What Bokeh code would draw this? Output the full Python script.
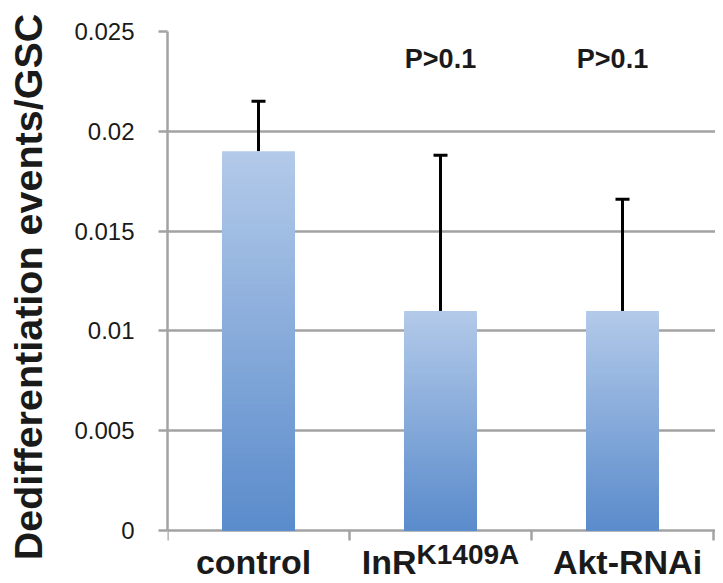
import math
from bokeh.plotting import figure
from bokeh.layouts import column, row
from bokeh.models import Range1d, FixedTicker, NumeralTickFormatter, Whisker, TeeHead, ColumnDataSource
from bokeh.core.properties import value
from bokeh.embed import file_html
from bokeh.resources import INLINE

# ---- data ----
categories = ["control", "InR", "Akt-RNAi"]
superscripts = ["", "K1409A", ""]
values = [0.019, 0.011, 0.011]
errors = [0.0025, 0.0078, 0.0056]
p_labels = ["", "P>0.1", "P>0.1"]
y_ticks = [0, 0.005, 0.01, 0.015, 0.02, 0.025]
y_title = "Dedifferentiation events/GSC"

# ---- style ----
FONT = "Liberation Sans"
TXT = "#1a1a1a"
GRAY = "#a3a3a3"
label_dx = [-5, 0, 5]        # small horizontal nudges of category labels (px)
p_dx = [0, 0, -10]           # nudges of the p-value texts (px)

n = len(categories)
centers = [i + 0.5 for i in range(n)]
bounds = [float(i) for i in range(n + 1)]

W_ALL, H_ALL = 715, 575
TW = 60                       # strip holding the rotated y title
W = W_ALL - TW
H1 = 544                      # chart part
H2 = H_ALL - H1               # category-label strip
TOP, LEFT = 31, 167 - TW
PLOT_H = 499                  # pixels from 0 to the top tick
CAT_PX = 182                  # pixels per category
px_per_unit = PLOT_H / y_ticks[-1]
y_start = -(H1 - TOP - PLOT_H) / px_per_unit
x_range = Range1d(0, (W - LEFT) / CAT_PX)


def bare(fig):
    fig.outline_line_color = None
    fig.background_fill_color = "white"
    fig.border_fill_color = "white"
    fig.xaxis.visible = False
    fig.xgrid.visible = False
    return fig


# ---- y title strip ----
t = bare(figure(width=TW, height=H_ALL, x_range=Range1d(0, TW), y_range=Range1d(0, H_ALL),
                min_border=0, output_backend="svg", toolbar_location=None))
t.yaxis.visible = False
t.ygrid.visible = False
t.text(x=[27], y=[H_ALL - 286.5], text=[y_title], angle=math.pi / 2,
       text_align="center", text_baseline="alphabetic", text_font=value(FONT),
       text_font_size=value("39.5px"), text_font_style="bold", text_color=TXT)

# ---- main chart ----
p = bare(figure(width=W, height=H1, x_range=x_range, y_range=Range1d(y_start, y_ticks[-1]),
                min_border_left=LEFT, min_border_right=0, min_border_top=TOP,
                min_border_bottom=0, output_backend="svg", toolbar_location=None))

p.ygrid.ticker = FixedTicker(ticks=y_ticks)
p.ygrid.grid_line_color = GRAY
p.ygrid.grid_line_width = 2.5

tick_len = 10 / px_per_unit
p.segment(x0=bounds, x1=bounds, y0=[0] * len(bounds), y1=[-tick_len] * len(bounds),
          line_color=GRAY, line_width=2.5)

# gradient bars (stacked slices, darker at bottom)
top_rgb = (179, 202, 233)
bot_rgb = (90, 139, 203)
N = 60
xs, tops, cols = [], [], []
for k in reversed(range(N)):
    f = (k + 0.5) / N
    c = tuple(int(round(b + (tt - b) * f)) for b, tt in zip(bot_rgb, top_rgb))
    hexc = "#%02x%02x%02x" % c
    for xc, v in zip(centers, values):
        xs.append(xc)
        tops.append(v * (k + 1) / N)
        cols.append(hexc)
p.vbar(x=xs, top=tops, bottom=0, width=0.4, fill_color=cols, line_color=None)

# error bars (upper only)
err_src = ColumnDataSource(dict(x=centers, lower=values,
                                upper=[v + e for v, e in zip(values, errors)]))
p.add_layout(Whisker(base="x", lower="lower", upper="upper", source=err_src,
                     line_color="black", line_width=3, lower_head=None,
                     upper_head=TeeHead(size=14, line_color="black", line_width=3)))

# y axis
p.yaxis.ticker = FixedTicker(ticks=y_ticks)
p.yaxis.bounds = (0, y_ticks[-1])
p.yaxis.formatter = NumeralTickFormatter(format="0.[000]")
p.yaxis.axis_line_color = GRAY
p.yaxis.axis_line_width = 2.5
p.yaxis.major_tick_line_color = GRAY
p.yaxis.major_tick_line_width = 2.5
p.yaxis.major_tick_out = 9
p.yaxis.major_tick_in = 0
p.yaxis.minor_tick_line_color = None
p.yaxis.major_label_standoff = 24
p.yaxis.major_label_text_font = FONT
p.yaxis.major_label_text_font_size = "24px"
p.yaxis.major_label_text_color = TXT

# p-value annotations
p_y = y_ticks[-1] - 27 / px_per_unit
px_ = [c for c, tx in zip(centers, p_labels) if tx]
pt = [tx for tx in p_labels if tx]
po = [d for d, tx in zip(p_dx, p_labels) if tx]
p.text(x=px_, y=[p_y] * len(px_), text=pt, x_offset=po, text_align="center",
       text_baseline="alphabetic", text_font=value(FONT),
       text_font_size=value("27px"), text_font_style="bold", text_color=TXT)

# ---- category label strip (shares the x scale) ----
q = bare(figure(width=W, height=H2, x_range=x_range, y_range=Range1d(0, H2),
                min_border_left=LEFT, min_border_right=0, min_border_top=0, min_border_bottom=0,
                output_backend="svg", toolbar_location=None))
q.yaxis.visible = False
q.ygrid.visible = False

main_size, sup_size = 34, 28
label_y = 14
sup_y = 21
w_main = [1.611 * main_size if s else 0 for s in superscripts]
w_sup = [3.668 * sup_size if s else 0 for s in superscripts]
q.text(x=centers, y=[label_y] * n, text=categories,
       x_offset=[d - ws / 2 for d, ws in zip(label_dx, w_sup)],
       text_align="center", text_baseline="alphabetic",
       text_font=value(FONT), text_font_size=value(f"{main_size}px"),
       text_font_style="bold", text_color=TXT)
sx = [c for c, s in zip(centers, superscripts) if s]
st = [s for s in superscripts if s]
so = [d + (wm - ws) / 2 for d, wm, ws, s in zip(label_dx, w_main, w_sup, superscripts) if s]
q.text(x=sx, y=[sup_y] * len(sx), text=st, x_offset=so,
       text_align="left", text_baseline="alphabetic",
       text_font=value(FONT), text_font_size=value(f"{sup_size}px"),
       text_font_style="bold", text_color=TXT)

layout = row(t, column(p, q, spacing=0), spacing=0)
open("out.html", "w").write(file_html(layout, INLINE))
